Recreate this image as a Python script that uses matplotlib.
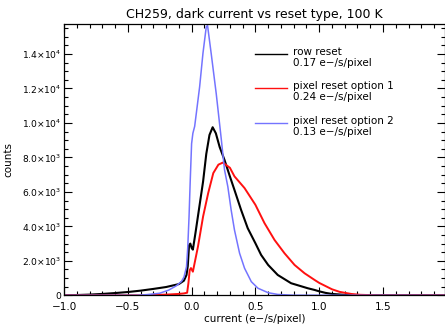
import matplotlib
matplotlib.use("Agg")
import matplotlib.pyplot as plt
from matplotlib.ticker import MultipleLocator
from matplotlib.lines import Line2D

title = "CH259, dark current vs reset type, 100 K"
xlabel = "current (e\u2212/s/pixel)"
ylabel = "counts"

labels = ["row reset", "pixel reset option 1", "pixel reset option 2"]
means = ["0.17 e\u2212/s/pixel", "0.24 e\u2212/s/pixel", "0.13 e\u2212/s/pixel"]
colors = ["#000000", "#ff1010", "#7474ff"]

x_row = [-1.0, -0.9, -0.8, -0.7, -0.6, -0.5, -0.4, -0.3, -0.2, -0.1, -0.06, -0.04,
         -0.03, -0.02, -0.01, 0.0, 0.01, 0.03, 0.05, 0.07, 0.09, 0.115, 0.14, 0.165,
         0.19, 0.22, 0.258, 0.3, 0.336, 0.388, 0.44, 0.5, 0.545, 0.6, 0.675, 0.78,
         0.91, 0.964, 1.0, 1.05, 1.1, 1.2, 1.3, 1.45, 2.0]
y_row = [0, 15, 40, 80, 130, 190, 270, 370, 480, 650, 850, 1180,
         1700, 2900, 3000, 2750, 2650, 3600, 4600, 5600, 6600, 8200, 9300, 9750,
         9400, 8600, 7850, 6900, 6110, 4950, 3890, 3020, 2340, 1760, 1180, 700,
         410, 310, 230, 140, 80, 25, 5, 0, 0]

x_p1 = [-1.0, -0.4, -0.2, -0.1, -0.06, -0.035, -0.025, -0.015, -0.005, 0.01, 0.03,
        0.05, 0.07, 0.09, 0.13, 0.17, 0.21, 0.245, 0.3, 0.336, 0.415, 0.5, 0.571,
        0.65, 0.728, 0.807, 0.885, 0.964, 1.0, 1.1, 1.16, 1.25, 1.32, 1.45, 2.0]
y_p1 = [0, 0, 40, 80, 110, 150, 700, 1450, 1580, 1370, 2100,
        2830, 3700, 4570, 5930, 7090, 7580, 7700, 7400, 6900, 6220, 5250, 4190,
        3210, 2440, 1760, 1280, 890, 720, 350, 200, 80, 30, 0, 0]

x_p2 = [-1.0, -0.43, -0.35, -0.25, -0.18, -0.12, -0.08, -0.06, -0.04, -0.03, -0.02,
        -0.01, 0.0, 0.01, 0.024, 0.037, 0.063, 0.089, 0.115, 0.125, 0.154, 0.193,
        0.232, 0.258, 0.284, 0.31, 0.336, 0.376, 0.415, 0.468, 0.52, 0.6, 0.675,
        0.8, 2.0]
y_p2 = [0, 0, 40, 120, 300, 550, 800, 1050, 1650, 2800, 4570,
        6800, 8800, 9400, 9800, 10560, 12100, 14040, 15580, 15650, 14000, 11700,
        9100, 7280, 6300, 4950, 3790, 2440, 1570, 790, 410, 150, 50, 5, 0]

yticks = [0, 2000, 4000, 6000, 8000, 10000, 12000, 14000]
ytick_labels = ["0", "2.0\u00d710$^3$", "4.0\u00d710$^3$", "6.0\u00d710$^3$",
                "8.0\u00d710$^3$", "1.0\u00d710$^4$", "1.2\u00d710$^4$",
                "1.4\u00d710$^4$"]
xticks = [-1.0, -0.5, 0.0, 0.5, 1.0, 1.5]
xtick_labels = ["\u22121.0", "\u22120.5", "0.0", "0.5", "1.0", "1.5"]

plt.rcParams['font.family'] = ['DejaVu Sans']
plt.rcParams['mathtext.fontset'] = 'dejavusans'
fig = plt.figure(figsize=(4.45, 3.24), dpi=100)
ax = fig.add_axes([64 / 445, (324 - 295.3) / 324, 380.5 / 445, 271.3 / 324])

ax.plot(x_row, y_row, color=colors[0], lw=1.5)
ax.plot(x_p1, y_p1, color=colors[1], lw=1.4)
ax.plot(x_p2, y_p2, color=colors[2], lw=1.1)

ax.set_xlim(-1.0, 1.982)
ax.set_ylim(0, 15740)
ax.set_xticks(xticks)
ax.set_xticklabels(xtick_labels)
ax.set_yticks(yticks)
ax.set_yticklabels(ytick_labels)
ax.xaxis.set_minor_locator(MultipleLocator(0.1))
ax.yaxis.set_minor_locator(MultipleLocator(500))
ax.tick_params(which='both', direction='in', top=True, right=True, width=0.8)
ax.tick_params(axis='x', labelsize=7.5, pad=5)
ax.tick_params(axis='y', labelsize=6.6, pad=2)
ax.tick_params(which='major', length=6)
ax.tick_params(which='minor', length=3)
for s in ax.spines.values():
    s.set_linewidth(0.9)

ax.set_title(title, fontsize=9, pad=4)
ax.set_xlabel(xlabel, fontsize=7.5, labelpad=1)
ax.set_ylabel(ylabel, fontsize=7.5, labelpad=6)
ax.yaxis.set_label_coords(-(64 - 13) / 380.5, 0.5)

# legend drawn manually
leg_y = [54, 88, 123]
for c, lab, m, yy in zip(colors, labels, means, leg_y):
    fy = 1 - (yy - 24) / 271.3
    ax.add_line(Line2D([(255 - 64) / 380.5, (287 - 64) / 380.5], [fy, fy],
                       transform=ax.transAxes, color=c, lw=1.0))
    ax.text((293 - 64) / 380.5, fy - 3.5 / 271.3, lab + "\n" + m, transform=ax.transAxes,
            fontsize=7.5, va='center', ha='left', linespacing=1.12)

fig.savefig("out.png", dpi=100)
